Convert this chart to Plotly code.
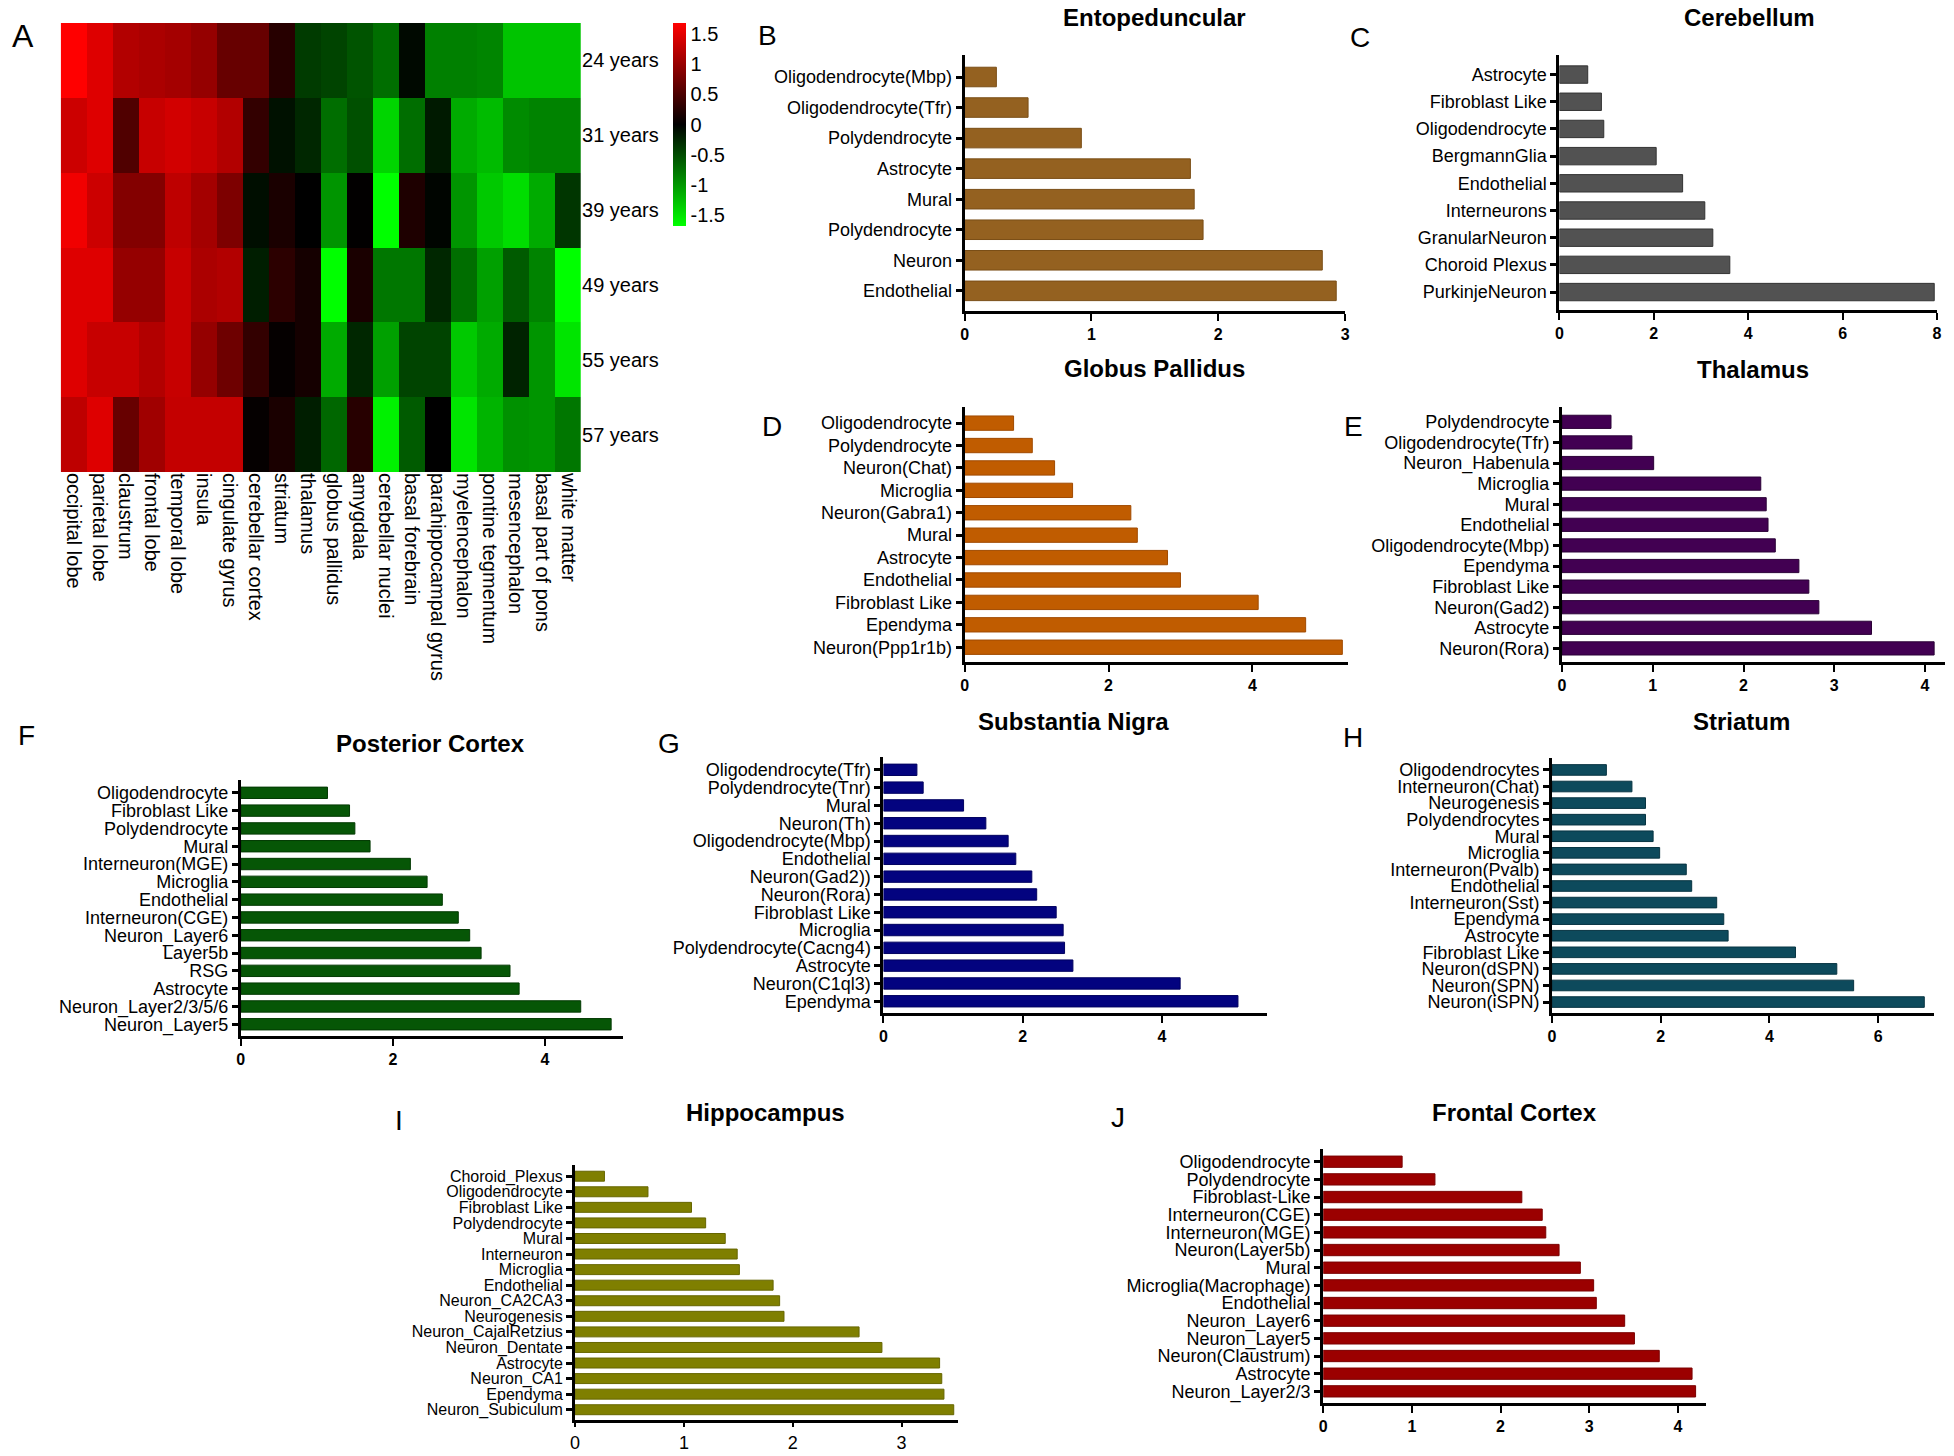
import plotly.graph_objects as go

W, H = 1954, 1456

# ---------------- Heatmap data (panel A) ----------------
regions = ["occipital lobe", "parietal lobe", "claustrum", "frontal lobe", "temporal lobe",
           "insula", "cingulate gyrus", "cerebellar cortex", "striatum", "thalamus",
           "globus pallidus", "amygdala", "cerebellar nuclei", "basal forebrain",
           "parahippocampal gyrus", "myelencephalon", "pontine tegmentum", "mesencephalon",
           "basal part of pons", "white matter"]
ages = ["24 years", "31 years", "39 years", "49 years", "55 years", "57 years"]
z_24 = [1.69, 1.47, 1.18, 1.13, 1.09, 0.99, 0.68, 0.68, 0.26, -0.39, -0.45, -0.56, -0.73, -0.06, -0.85, -0.85, -0.88, -1.30, -1.30, -1.30]
z_31 = [1.35, 1.47, 0.53, 1.32, 1.39, 1.32, 1.18, 0.34, -0.11, -0.26, -0.73, -0.53, -1.41, -0.73, -0.17, -1.13, -1.24, -0.92, -0.87, -0.87]
z_39 = [1.60, 1.35, 0.87, 0.87, 1.26, 1.09, 0.83, -0.09, 0.17, 0.00, -0.99, 0.01, -1.69, 0.20, -0.03, -0.99, -1.33, -1.47, -1.13, -0.36]
z_49 = [1.47, 1.47, 0.99, 0.99, 1.32, 1.13, 1.18, -0.20, 0.29, 0.14, -1.69, 0.17, -0.79, -0.79, -0.26, -0.73, -1.06, -0.60, -0.87, -1.69]
z_55 = [1.47, 1.32, 1.32, 1.18, 1.32, 0.99, 0.73, 0.34, 0.03, 0.14, -1.13, -0.26, -1.06, -0.45, -0.45, -1.33, -1.13, -0.23, -0.99, -1.52]
z_57 = [1.26, 1.47, 0.68, 1.06, 1.30, 1.30, 1.30, 0.03, 0.17, -0.20, -0.68, 0.26, -1.60, -0.60, 0.00, -1.52, -1.19, -0.96, -0.99, -0.79]
cbar_ticks = [1.5, 1, 0.5, 0, -0.5, -1, -1.5]
cbar_labels = ["1.5", "1", "0.5", "0", "-0.5", "-1", "-1.5"]

# ---------------- Bar panel data ----------------
ento_cells = ["Oligodendrocyte(Mbp)", "Oligodendrocyte(Tfr)", "Polydendrocyte", "Astrocyte", "Mural",
              "Polydendrocyte", "Neuron", "Endothelial"]
ento_vals = [0.25, 0.50, 0.92, 1.78, 1.81, 1.88, 2.82, 2.93]

cereb_cells = ["Astrocyte", "Fibroblast Like", "Oligodendrocyte", "BergmannGlia", "Endothelial",
               "Interneurons", "GranularNeuron", "Choroid Plexus", "PurkinjeNeuron"]
cereb_vals = [0.60, 0.89, 0.94, 2.05, 2.61, 3.08, 3.25, 3.61, 7.94]

gp_cells = ["Oligodendrocyte", "Polydendrocyte", "Neuron(Chat)", "Microglia", "Neuron(Gabra1)", "Mural",
            "Astrocyte", "Endothelial", "Fibroblast Like", "Ependyma", "Neuron(Ppp1r1b)"]
gp_vals = [0.68, 0.94, 1.25, 1.50, 2.31, 2.40, 2.82, 3.00, 4.08, 4.74, 5.25]

thal_cells = ["Polydendrocyte", "Oligodendrocyte(Tfr)", "Neuron_Habenula", "Microglia", "Mural",
              "Endothelial", "Oligodendrocyte(Mbp)", "Ependyma", "Fibroblast Like", "Neuron(Gad2)",
              "Astrocyte", "Neuron(Rora)"]
thal_vals = [0.54, 0.77, 1.01, 2.19, 2.25, 2.27, 2.35, 2.61, 2.72, 2.83, 3.41, 4.10]

pc_cells = ["Oligodendrocyte", "Fibroblast Like", "Polydendrocyte", "Mural", "Interneuron(MGE)",
            "Microglia", "Endothelial", "Interneuron(CGE)", "Neuron_Layer6", "Layer5b", "RSG",
            "Astrocyte", "Neuron_Layer2/3/5/6", "Neuron_Layer5"]
pc_vals = [1.14, 1.43, 1.50, 1.70, 2.23, 2.45, 2.65, 2.86, 3.01, 3.16, 3.54, 3.66, 4.47, 4.87]

sn_cells = ["Oligodendrocyte(Tfr)", "Polydendrocyte(Tnr)", "Mural", "Neuron(Th)", "Oligodendrocyte(Mbp)",
            "Endothelial", "Neuron(Gad2))", "Neuron(Rora)", "Fibroblast Like", "Microglia",
            "Polydendrocyte(Cacng4)", "Astrocyte", "Neuron(C1ql3)", "Ependyma"]
sn_vals = [0.48, 0.57, 1.15, 1.47, 1.79, 1.90, 2.13, 2.20, 2.48, 2.58, 2.60, 2.72, 4.26, 5.09]

str_cells = ["Oligodendrocytes", "Interneuron(Chat)", "Neurogenesis", "Polydendrocytes", "Mural",
             "Microglia", "Interneuron(Pvalb)", "Endothelial", "Interneuron(Sst)", "Ependyma",
             "Astrocyte", "Fibroblast Like", "Neuron(dSPN)", "Neuron(SPN)", "Neuron(iSPN)"]
str_vals = [1.00, 1.47, 1.72, 1.72, 1.86, 1.98, 2.47, 2.57, 3.03, 3.16, 3.24, 4.48, 5.24, 5.55, 6.85]

hip_cells = ["Choroid_Plexus", "Oligodendrocyte", "Fibroblast Like", "Polydendrocyte", "Mural",
             "Interneuron", "Microglia", "Endothelial", "Neuron_CA2CA3", "Neurogenesis",
             "Neuron_CajalRetzius", "Neuron_Dentate", "Astrocyte", "Neuron_CA1", "Ependyma",
             "Neuron_Subiculum"]
hip_vals = [0.27, 0.67, 1.07, 1.20, 1.38, 1.49, 1.51, 1.82, 1.88, 1.92, 2.61, 2.82, 3.35, 3.37, 3.39, 3.48]

fc_cells = ["Oligodendrocyte", "Polydendrocyte", "Fibroblast-Like", "Interneuron(CGE)", "Interneuron(MGE)",
            "Neuron(Layer5b)", "Mural", "Microglia(Macrophage)", "Endothelial", "Neuron_Layer6",
            "Neuron_Layer5", "Neuron(Claustrum)", "Astrocyte", "Neuron_Layer2/3"]
fc_vals = [0.89, 1.26, 2.24, 2.47, 2.51, 2.66, 2.90, 3.05, 3.08, 3.40, 3.51, 3.79, 4.16, 4.20]

# ---------------- Layout helpers ----------------
def px(x):
    return x / W

def py(y):
    return 1 - y / H

FONT = "Liberation Sans, Arial, sans-serif"
NARROW = "Liberation Sans Narrow, Arial Narrow, Liberation Sans, Arial, sans-serif"

fig = go.Figure()
layout = dict(width=W, height=H, margin=dict(l=0, r=0, t=0, b=0),
              paper_bgcolor="white", plot_bgcolor="white", showlegend=False,
              font=dict(family=FONT, color="black"))
annotations = []

# ---------------- Panel A heatmap ----------------
fig.add_trace(go.Heatmap(
    z=[z_24, z_31, z_39, z_49, z_55, z_57], x=regions, y=ages,
    zmin=-1.69, zmax=1.69,
    colorscale=[[0, "rgb(0,255,0)"], [0.5, "rgb(0,0,0)"], [1, "rgb(255,0,0)"]],
    xaxis="x", yaxis="y",
    colorbar=dict(x=px(671), xanchor="left", y=py(23), yanchor="top",
                  len=203 / H, lenmode="fraction", thickness=13,
                  xpad=0, ypad=0, outlinewidth=0, ticks="",
                  tickvals=cbar_ticks, ticktext=cbar_labels,
                  tickfont=dict(size=20, family=FONT))))
layout["xaxis"] = dict(domain=[px(56), px(579)], anchor="y", tickangle=90, side="bottom",
                       tickfont=dict(size=20), showgrid=False, zeroline=False, ticks="",
                       showline=False)
layout["yaxis"] = dict(domain=[py(472), py(23)], anchor="x", side="right", autorange="reversed",
                       tickfont=dict(size=20), showgrid=False, zeroline=False, ticks="")
annotations.append(dict(text="A", x=px(18), y=py(36), xref="paper", yref="paper",
                        showarrow=False, font=dict(size=32, family=FONT),
                        xanchor="center", yanchor="middle"))

# ---------------- Bar panels ----------------
panels = [
    dict(cells=ento_cells, vals=ento_vals, title="Entopeduncular", letter="B", color="#946120", edge="#7a4e16",
         x0=964.6, x1=1347, top=55, bot=311, xmax=3.0, dtick=1, tx=1155, ty=18, lx=766, ly=35),
    dict(cells=cereb_cells, vals=cereb_vals, title="Cerebellum", letter="C", color="#525252", edge="#333333",
         x0=1562.4, x1=1942, top=55, bot=310, xmax=8.0, dtick=2, tx=1753, ty=18, lx=1362, ly=37),
    dict(cells=gp_cells, vals=gp_vals, title="Globus Pallidus", letter="D", color="#c05c00", edge="#a04a00",
         x0=964.6, x1=1350, top=407, bot=662, xmax=5.33, dtick=2, tx=1155, ty=368, lx=771, ly=426),
    dict(cells=thal_cells, vals=thal_vals, title="Thalamus", letter="E", color="#420052", edge="#2a0036",
         x0=1565, x1=1950, top=407, bot=662, xmax=4.22, dtick=1, tx=1757, ty=369, lx=1355, ly=426),
    dict(cells=pc_cells, vals=pc_vals, title="Posterior Cortex", letter="F", color="#065606", edge="#033a03",
         x0=237, x1=621.5, top=780, bot=1036, xmax=5.03, dtick=2, tx=428, ty=743, lx=22, ly=735),
    dict(cells=sn_cells, vals=sn_vals, title="Substantia Nigra", letter="G", color="#03037f", edge="#020260",
         x0=883, x1=1268, top=757, bot=1013, xmax=5.5, dtick=2, tx=1074, ty=721, lx=667, ly=743),
    dict(cells=str_cells, vals=str_vals, title="Striatum", letter="H", color="#0d4a5c", edge="#073442",
         x0=1555, x1=1939, top=758, bot=1013, xmax=7.03, dtick=2, tx=1745, ty=721, lx=1355, ly=737),
    dict(cells=hip_cells, vals=hip_vals, title="Hippocampus", letter="I", color="#7f7f00", edge="#666600",
         x0=573, x1=958, top=1165, bot=1420, xmax=3.52, dtick=1, tx=764, ty=1112, lx=396, ly=1120,
         ytick=16, xticklen=4, xfont=dict(size=18, family=FONT)),
    dict(cells=fc_cells, vals=fc_vals, title="Frontal Cortex", letter="J", color="#9b0000", edge="#7a0000",
         x0=1325, x1=1710, top=1149, bot=1403, xmax=4.32, dtick=1, tx=1517, ty=1112, lx=1119, ly=1117),
]

for i, p in enumerate(panels):
    k = i + 2
    n = len(p["cells"])
    pos = list(range(n))
    fig.add_trace(go.Bar(x=p["vals"], y=pos, orientation="h", width=0.64,
                         marker=dict(color=p["color"], line=dict(color=p["edge"], width=1)),
                         xaxis=f"x{k}", yaxis=f"y{k}", name=p["title"]))
    layout[f"xaxis{k}"] = dict(
        domain=[px(p["x0"]), px(p["x1"])], anchor=f"y{k}", range=[0, p["xmax"]],
        dtick=p["dtick"], tick0=0, showgrid=False, zeroline=False,
        showline=True, linecolor="black", linewidth=3,
        ticks="outside", ticklen=p.get("xticklen", 7), tickwidth=2, tickcolor="black",
        tickfont=p.get("xfont", dict(size=16, family=NARROW, weight=700)))
    layout[f"yaxis{k}"] = dict(
        domain=[py(p["bot"]), py(p["top"])], anchor=f"x{k}",
        range=[n - 1 + 0.66, -0.72], tickvals=pos, ticktext=p["cells"],
        showgrid=False, zeroline=False, showline=True, linecolor="black", linewidth=3,
        ticks="outside", ticklen=6, tickwidth=2.5, tickcolor="black",
        tickfont=dict(size=p.get("ytick", 18), family=FONT))
    annotations.append(dict(text=f"<b>{p['title']}</b>", x=px(p["tx"]), y=py(p["ty"]),
                            xref="paper", yref="paper", showarrow=False,
                            font=dict(size=24, family=FONT), xanchor="center", yanchor="middle"))
    annotations.append(dict(text=p["letter"], x=px(p["lx"]), y=py(p["ly"]),
                            xref="paper", yref="paper", showarrow=False,
                            font=dict(size=28, family=FONT), xanchor="center", yanchor="middle"))

layout["annotations"] = annotations
fig.update_layout(**layout)
fig.write_html("out.html", config={"displayModeBar": False},
               post_script="document.body.style.margin='0';document.body.style.overflow='hidden';")
